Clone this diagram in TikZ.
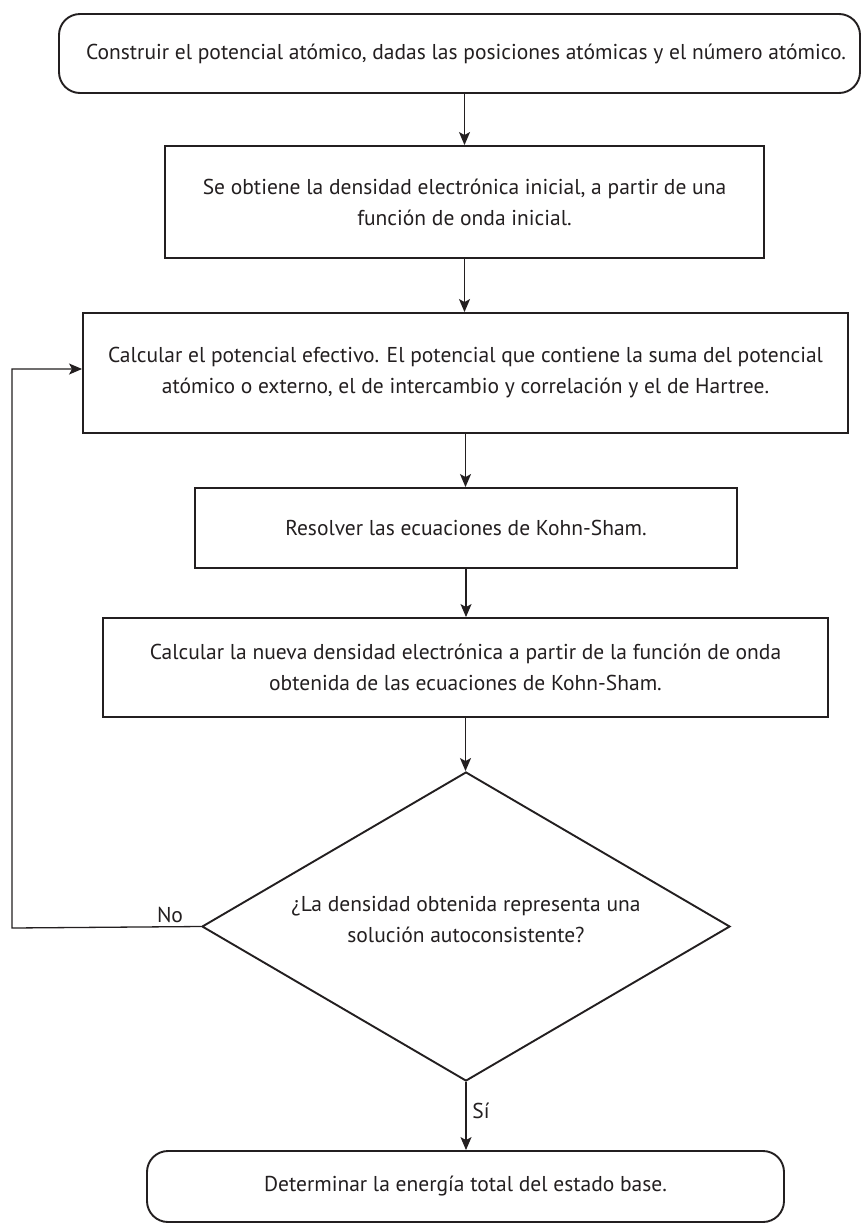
\documentclass[tikz,border=0pt]{standalone}
\usepackage{fontspec}
\setmainfont{PT Sans}
\usetikzlibrary{arrows.meta,shapes.geometric}
\definecolor{ink}{RGB}{35,31,32}
\begin{document}
\begin{tikzpicture}[x=1pt,y=-1pt,
  every node/.style={font=\fontsize{21.5}{31}\selectfont, text=ink},
  txt/.style={align=center, inner sep=0pt},
  proc/.style={draw=ink, line width=1.9pt, inner sep=0pt},
  term/.style={proc, rounded corners=21pt},
  conn/.style={draw=ink, line width=1.3pt, -{Stealth[length=13pt,width=11pt,inset=3pt]}},
]
\useasboundingbox[fill=white] (0,0) rectangle (861,1224);
% boxes
\node[term, minimum width=801pt, minimum height=79pt] (n1) at (459.5,53.5) {};
\node[txt] (n1t) at (466,53.5) {Construir el potencial atómico, dadas las posiciones atómicas y el número atómico.};
\node[proc, minimum width=599pt, minimum height=112pt] (n2) at (464.5,202) {};
\node[txt] (n2t) at (464.5,202) {Se obtiene la densidad electrónica inicial, a partir de una\\función de onda inicial.};
\node[proc, minimum width=765pt, minimum height=120pt] (n3) at (465.5,373) {};
\node[txt] (n3t) at (465.5,373) {Calcular el potencial efectivo. El potencial que contiene la suma del potencial\\atómico o externo, el de intercambio y correlación y el de Hartree.};
\node[proc, minimum width=542pt, minimum height=80pt] (n4) at (466,528) {};
\node[txt] (n4t) at (466,528) {Resolver las ecuaciones de Kohn-Sham.};
\node[proc, minimum width=725pt, minimum height=99pt] (n5) at (465.5,667.5) {};
\node[txt] (n5t) at (465.5,667.5) {Calcular la nueva densidad electrónica a partir de la función de onda\\obtenida de las ecuaciones de Kohn-Sham.};
\node[proc, diamond, minimum width=528pt, minimum height=309pt] (dia) at (466,926.5) {};
\node[txt] (diat) at (466,920) {¿La densidad obtenida representa una\\solución autoconsistente?};
\node[term, minimum width=637pt, minimum height=71pt] (n7) at (465.5,1186.5) {};
\node[txt] (n7t) at (465.5,1186.5) {Determinar la energía total del estado base.};
% labels
\node[txt] (no) at (170,915) {No};
\node[txt] (si) at (481,1111) {Sí};
% connectors
\draw[conn] (n1.south -| n2.north) -- (n2.north);
\draw[conn] (n2.south) -- (n3.north -| n2.south);
\draw[conn] (n3.south) -- (n4.north -| n3.south);
\draw[conn] (n4.south) -- (n5.north -| n4.south);
\draw[conn] (n5.south) -- (dia.north -| n5.south);
\draw[conn] (dia.south) -- (n7.north -| dia.south);
\coordinate (lb) at (12,928);
\coordinate (lt) at (12,369);
\draw[conn] (dia.west) -- (lb) -- (lt) -- (lt -| n3.west);
\end{tikzpicture}
\end{document}
